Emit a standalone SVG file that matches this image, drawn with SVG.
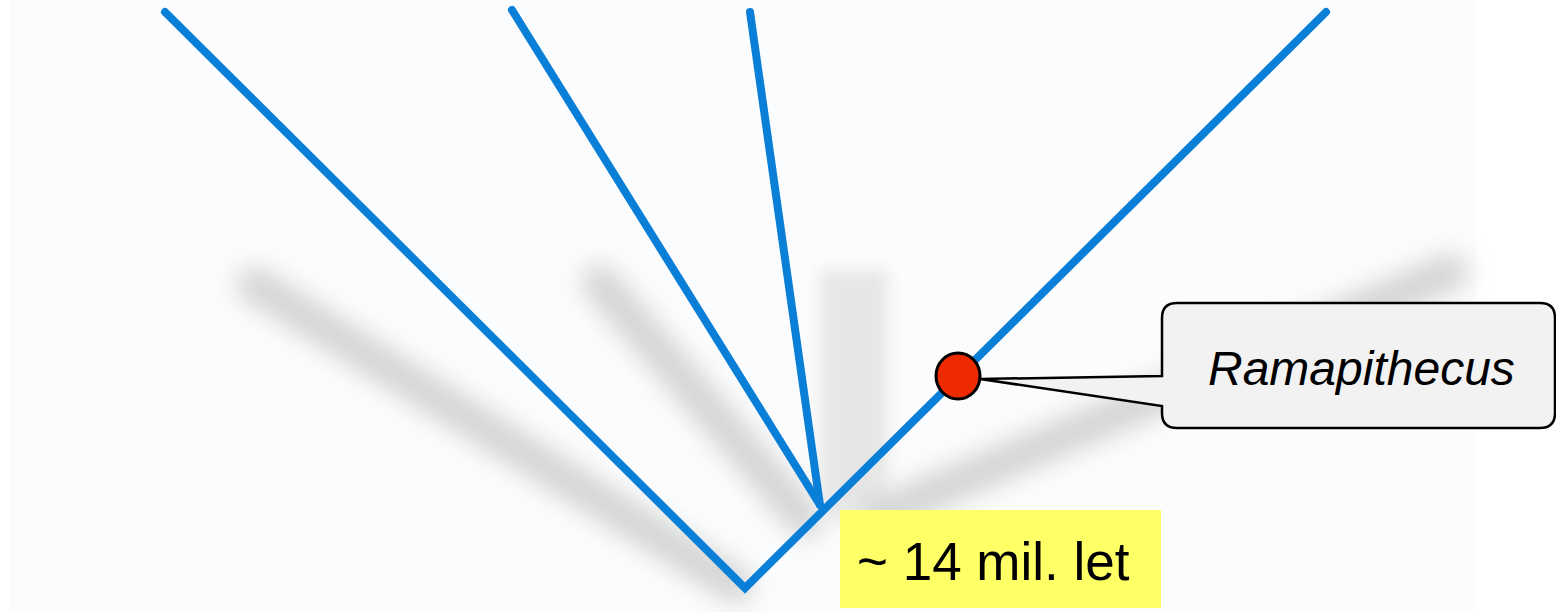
<svg xmlns="http://www.w3.org/2000/svg" width="1556" height="612" viewBox="0 0 1556 612">
<defs>
<filter id="blur" x="-30%" y="-30%" width="160%" height="160%"><feGaussianBlur stdDeviation="12"/></filter>
<filter id="blur2" x="-30%" y="-30%" width="160%" height="160%"><feGaussianBlur stdDeviation="8"/></filter>
<style>
.branch{stroke:#0a7fd8;stroke-width:8;stroke-linecap:round;fill:none}
.shadow{stroke:#cdcdcd;stroke-width:36;stroke-linecap:round;fill:none;filter:url(#blur)}
</style>
</defs>
<rect x="0" y="0" width="1556" height="612" fill="#ffffff"/>
<rect x="10" y="0" width="1466" height="612" fill="#fbfcfd"/>
<g id="shadows" opacity="0.85">
<path class="shadow" d="M255 285 L735 585"/>
<path class="shadow" d="M600 283 L805 520"/>
<rect x="820" y="270" width="68" height="250" fill="#e3e3e3" filter="url(#blur2)"/>
<path class="shadow" d="M1450 272 L880 515"/>
</g>
<g id="connectors">
<path class="branch" d="M165 12 L745 588 L1326 12"/>
<path class="branch" d="M512 10 L820 505"/>
<path class="branch" d="M750 12 L820 505"/>
</g>
<g id="ramapithecus-callout">
<path d="M1177 303 H1540 Q1555 303 1555 318 V413 Q1555 428 1540 428 H1177 Q1162 428 1162 413 V406 L980 379 L1162 376 V318 Q1162 303 1177 303 Z" fill="#f2f2f2" stroke="#000" stroke-width="2.5"/>
<text x="1208" y="385" font-family="Liberation Sans, Arial, sans-serif" font-style="italic" font-size="48" fill="#000">Ramapithecus</text>
</g>
<g id="ramapithecus-point">
<ellipse cx="958" cy="376" rx="22" ry="23" fill="#ee2a00" stroke="#000" stroke-width="3"/>
</g>
<g id="age-label">
<rect x="840" y="510" width="321" height="98" fill="#ffff66"/>
<text x="857" y="580" font-family="Liberation Sans, Arial, sans-serif" font-size="53" fill="#000">~ 14 mil. let</text>
</g>
</svg>
